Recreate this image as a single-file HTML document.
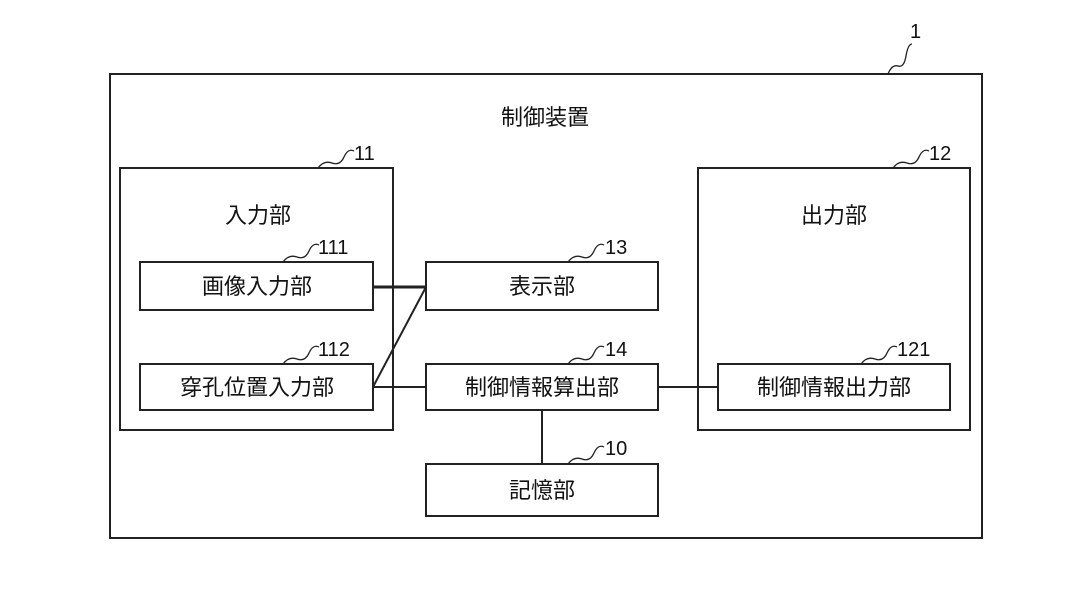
<!DOCTYPE html>
<html><head><meta charset="utf-8"><style>
body{margin:0;background:#fff}
svg text{font-family:"Liberation Sans","Noto Sans CJK JP",sans-serif;fill:#111}
</style></head><body>
<svg width="1087" height="598" viewBox="0 0 1087 598" xmlns="http://www.w3.org/2000/svg">
<g fill="none" stroke="#222" stroke-width="2">
<rect x="110" y="74" width="872" height="464"/>
<rect x="120" y="168" width="273" height="262"/>
<rect x="698" y="168" width="272" height="262"/>
<rect x="140" y="262" width="233" height="48"/>
<rect x="140" y="364" width="233" height="46"/>
<rect x="426" y="262" width="232" height="48"/>
<rect x="426" y="364" width="232" height="46"/>
<rect x="426" y="464" width="232" height="52"/>
<rect x="718" y="364" width="232" height="46"/>
<line x1="373" y1="287" x2="426" y2="287" stroke-width="3"/>
<line x1="373" y1="387" x2="426" y2="387"/>
<line x1="373" y1="387" x2="426" y2="287"/>
<line x1="658" y1="387" x2="718" y2="387"/>
<line x1="542" y1="410" x2="542" y2="464"/>
</g>
<g fill="none" stroke="#222" stroke-width="1.3">
<path d="M888 74 q4-10 10-8 t8-10 t6-12"/>
<path d="M318 168 q6-8 14-5 t12-6 t10-6"/>
<path d="M893 168 q6-8 14-5 t12-6 t10-6"/>
<path d="M283 262 q6-8 14-5 t12-6 t10-6"/>
<path d="M568 262 q6-8 14-5 t12-6 t10-6"/>
<path d="M283 364 q6-8 14-5 t12-6 t10-6"/>
<path d="M568 364 q6-8 14-5 t12-6 t10-6"/>
<path d="M861 364 q6-8 14-5 t12-6 t10-6"/>
<path d="M568 464 q6-8 14-5 t12-6 t10-6"/>
</g>
<g font-size="20">
<text x="910" y="38">1</text>
<text x="354" y="160">11</text>
<text x="929" y="160">12</text>
<text x="318" y="254">111</text>
<text x="605" y="254">13</text>
<text x="318" y="356">112</text>
<text x="605" y="356">14</text>
<text x="897" y="356">121</text>
<text x="605" y="455">10</text>
</g>
<g font-size="22" text-anchor="middle">
<text x="545" y="125">制御装置</text>
<text x="258" y="223">入力部</text>
<text x="834" y="223">出力部</text>
<text x="257" y="294">画像入力部</text>
<text x="257" y="395">穿孔位置入力部</text>
<text x="542" y="294">表示部</text>
<text x="542" y="395">制御情報算出部</text>
<text x="542" y="498">記憶部</text>
<text x="834" y="395">制御情報出力部</text>
</g>
</svg>
</body></html>
